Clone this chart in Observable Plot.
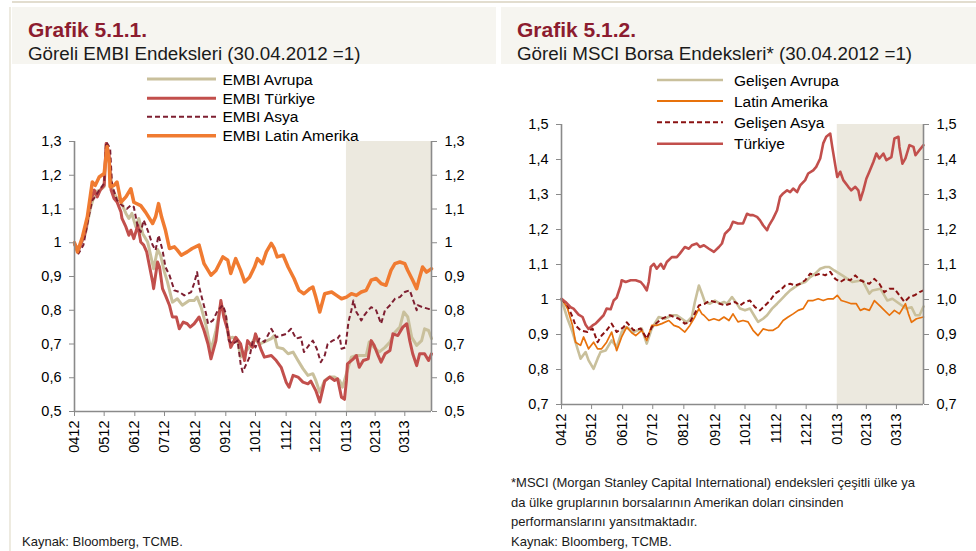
<!DOCTYPE html>
<html><head><meta charset="utf-8">
<script src="https://cdn.jsdelivr.net/npm/d3@7"></script>
<script src="https://cdn.jsdelivr.net/npm/@observablehq/plot@0.6"></script>
<style>
html,body{margin:0;padding:0;background:#fff;}
#page{position:relative;width:976px;height:551px;overflow:hidden;font-family:"Liberation Sans",Arial,sans-serif;}
.abs{position:absolute;left:0;top:0;}
#chart1{position:absolute;left:0;top:120px;}
#chart2{position:absolute;left:490px;top:100px;}
.ttl{font-family:"Liberation Sans",Arial,sans-serif;font-weight:bold;font-size:21px;fill:#8c1c2f;}
.sub{font-family:"Liberation Sans",Arial,sans-serif;font-size:18.8px;fill:#1a1a1a;}
.leg{font-family:"Liberation Sans",Arial,sans-serif;font-size:15.5px;fill:#000;}
.note{font-family:"Liberation Sans",Arial,sans-serif;font-size:13px;fill:#1a1a1a;}
</style></head>
<body>
<div id="page">
<svg id="bg" class="abs" width="976" height="551"></svg>
<div id="chart1"></div>
<div id="chart2"></div>
<svg id="overlay" class="abs" width="976" height="551"></svg>
</div>
<script>
// ---------- data ----------
const baseDate = "2012-04-30";            // 30.04.2012 = 1 ; series below are [days since base, index]
const periodEnd = "2013-04-26";
const shadeStart = "2013-01-30";
const monthTicks = ["2012-04-30","2012-05-30","2012-06-30","2012-07-30","2012-08-30","2012-09-30",
  "2012-10-30","2012-11-30","2012-12-30","2013-01-30","2013-02-28","2013-03-30"];
const yTicksEmbi = [0.5,0.6,0.7,0.8,0.9,1.0,1.1,1.2,1.3];
const yTicksMsci = [0.7,0.8,0.9,1.0,1.1,1.2,1.3,1.4,1.5];

const embiNames = ["EMBI Avrupa","EMBI Türkiye","EMBI Asya","EMBI Latin Amerika"];
const msciNames = ["Gelişen Avrupa","Latin Amerika","Gelişen Asya","Türkiye"];

const embiAvrupa = [[0,0.995],[4,0.978],[11,1.027],[16,1.101],[21,1.151],[26,1.156],[30,1.166],[32,1.289],[36,1.22],[38,1.161],[42,1.136],[47,1.121],[52,1.087],[55,1.072],[58,1.087],[62,1.047],[65,1.072],[69,1.027],[74,1.002],[77,0.963],[80,0.923],[84,0.98],[87,0.963],[91,0.913],[94,0.884],[99,0.824],[104,0.834],[109,0.815],[116,0.829],[121,0.829],[124,0.839],[128,0.809],[133,0.755],[138,0.681],[143,0.74],[148,0.82],[153,0.78],[156,0.716],[160,0.72],[165,0.71],[168,0.661],[172,0.676],[177,0.69],[182,0.716],[187,0.70],[192,0.706],[199,0.716],[202,0.725],[205,0.69],[211,0.686],[216,0.671],[221,0.676],[226,0.651],[231,0.627],[236,0.607],[241,0.612],[244,0.592],[248,0.557],[253,0.592],[258,0.602],[263,0.602],[268,0.592],[271,0.572],[275,0.612],[280,0.661],[285,0.666],[290,0.666],[295,0.666],[298,0.706],[303,0.69],[308,0.676],[314,0.69],[319,0.706],[324,0.735],[329,0.75],[333,0.795],[337,0.78],[341,0.72],[346,0.696],[351,0.71],[354,0.745],[358,0.74],[361,0.716]];
const embiTurkiye = [[0,0.998],[4,0.978],[11,1.032],[16,1.121],[20,1.156],[23,1.136],[26,1.156],[30,1.17],[32,1.294],[35,1.26],[37,1.156],[40,1.131],[43,1.121],[47,1.091],[48,1.072],[52,1.047],[55,1.022],[57,1.037],[60,1.012],[64,1.052],[67,1.002],[70,0.993],[73,0.973],[75,0.943],[79,0.884],[80,0.864],[82,0.904],[84,0.943],[86,0.928],[89,0.864],[92,0.844],[96,0.815],[99,0.78],[103,0.78],[106,0.745],[110,0.765],[114,0.76],[117,0.75],[121,0.76],[126,0.78],[131,0.74],[135,0.70],[138,0.656],[143,0.71],[148,0.829],[151,0.78],[155,0.74],[158,0.69],[163,0.72],[168,0.70],[172,0.651],[175,0.71],[180,0.69],[183,0.73],[189,0.681],[192,0.661],[199,0.666],[204,0.651],[209,0.631],[214,0.587],[217,0.572],[221,0.607],[226,0.602],[231,0.587],[236,0.582],[239,0.59],[244,0.562],[248,0.528],[253,0.59],[258,0.602],[263,0.592],[266,0.597],[270,0.542],[273,0.536],[275,0.592],[276,0.641],[282,0.656],[285,0.666],[288,0.631],[292,0.651],[297,0.656],[300,0.71],[303,0.696],[307,0.666],[310,0.646],[314,0.671],[319,0.681],[322,0.73],[327,0.725],[332,0.75],[336,0.76],[339,0.71],[342,0.671],[346,0.636],[349,0.671],[354,0.671],[358,0.651],[361,0.671]];
const embiAsya = [[0,0.993],[4,0.968],[9,0.993],[14,1.072],[18,1.126],[21,1.136],[25,1.156],[30,1.176],[32,1.299],[36,1.28],[38,1.17],[43,1.126],[48,1.111],[53,1.101],[57,1.111],[60,1.106],[64,1.047],[67,1.032],[70,1.067],[74,1.037],[79,0.993],[82,0.978],[85,1.022],[89,0.978],[92,0.928],[96,0.904],[101,0.859],[106,0.854],[111,0.844],[118,0.854],[121,0.88],[124,0.913],[126,0.87],[129,0.835],[133,0.79],[135,0.76],[140,0.77],[145,0.80],[150,0.815],[153,0.79],[156,0.71],[160,0.70],[165,0.71],[168,0.641],[170,0.617],[173,0.636],[177,0.661],[180,0.706],[183,0.69],[187,0.716],[192,0.706],[199,0.745],[204,0.72],[209,0.725],[214,0.73],[219,0.745],[224,0.716],[229,0.72],[232,0.676],[237,0.696],[241,0.71],[245,0.686],[249,0.646],[253,0.666],[256,0.70],[261,0.71],[266,0.716],[268,0.725],[270,0.686],[274,0.69],[277,0.765],[280,0.80],[282,0.829],[285,0.795],[290,0.77],[293,0.785],[297,0.80],[300,0.809],[305,0.80],[310,0.76],[314,0.80],[319,0.815],[324,0.834],[329,0.839],[334,0.854],[339,0.859],[342,0.834],[346,0.80],[347,0.815],[352,0.809],[358,0.804],[361,0.804]];
const embiLatin = [[0,1.0],[3,0.973],[8,1.017],[13,1.077],[18,1.18],[21,1.17],[25,1.195],[30,1.205],[33,1.285],[35,1.245],[36,1.166],[40,1.17],[43,1.18],[47,1.12],[52,1.136],[57,1.16],[60,1.12],[67,1.11],[72,1.09],[79,1.057],[82,1.077],[85,1.116],[88,1.077],[92,1.037],[96,0.983],[101,0.988],[104,0.978],[108,0.963],[114,0.973],[119,0.983],[126,0.993],[131,0.938],[138,0.904],[143,0.918],[150,0.958],[155,0.948],[158,0.909],[163,0.953],[168,0.918],[172,0.884],[177,0.898],[182,0.928],[185,0.953],[190,0.938],[194,0.973],[199,0.998],[202,0.983],[205,0.958],[211,0.963],[216,0.928],[222,0.894],[227,0.859],[232,0.849],[238,0.864],[241,0.869],[244,0.839],[248,0.795],[253,0.849],[260,0.854],[265,0.844],[270,0.834],[275,0.839],[280,0.849],[285,0.844],[290,0.854],[295,0.859],[300,0.889],[305,0.894],[310,0.879],[315,0.874],[320,0.918],[324,0.938],[329,0.943],[334,0.938],[337,0.918],[342,0.889],[346,0.864],[349,0.898],[352,0.928],[356,0.913],[361,0.923]];

const msciAvrupa = [[0,1.0],[6,0.945],[11,0.907],[16,0.859],[19,0.831],[24,0.85],[27,0.826],[32,0.802],[36,0.831],[39,0.85],[44,0.854],[50,0.883],[55,0.864],[60,0.907],[65,0.921],[72,0.907],[80,0.917],[85,0.874],[90,0.917],[97,0.95],[103,0.945],[110,0.955],[115,0.955],[120,0.945],[125,0.935],[130,0.95],[133,0.993],[137,1.04],[140,1.017],[143,0.993],[148,0.988],[153,0.997],[158,0.988],[162,0.993],[165,0.988],[170,1.007],[175,0.988],[178,0.974],[183,0.969],[188,0.974],[193,0.95],[196,0.936],[201,0.945],[205,0.955],[210,0.974],[215,0.988],[218,0.997],[223,1.012],[228,1.026],[233,1.036],[238,1.045],[243,1.05],[248,1.064],[253,1.074],[258,1.088],[263,1.093],[267,1.093],[272,1.083],[280,1.069],[290,1.05],[300,1.055],[307,1.017],[310,1.026],[318,1.031],[325,0.997],[330,1.002],[337,0.988],[344,0.974],[349,0.978],[353,0.955],[357,0.955],[361,0.98]];
const msciLatin = [[0,0.998],[1,1.0],[6,0.974],[11,0.926],[14,0.878],[19,0.869],[22,0.893],[27,0.859],[32,0.878],[36,0.859],[40,0.859],[45,0.878],[50,0.907],[55,0.854],[60,0.893],[65,0.921],[70,0.905],[74,0.897],[80,0.912],[85,0.883],[90,0.926],[95,0.926],[100,0.931],[107,0.94],[112,0.926],[117,0.921],[123,0.907],[128,0.926],[133,0.95],[137,0.974],[140,0.959],[142,0.955],[147,0.94],[152,0.945],[157,0.94],[162,0.95],[167,0.94],[171,0.959],[176,0.936],[181,0.94],[186,0.936],[191,0.912],[196,0.897],[201,0.916],[206,0.912],[211,0.912],[216,0.921],[221,0.94],[226,0.95],[231,0.959],[236,0.969],[241,0.974],[246,0.997],[251,0.997],[256,1.002],[261,0.997],[266,1.002],[271,1.002],[275,1.012],[279,0.997],[284,0.993],[289,0.988],[294,0.988],[298,0.969],[302,0.974],[307,0.969],[312,0.997],[317,0.983],[322,0.969],[327,0.955],[332,0.969],[337,0.959],[343,0.988],[346,0.959],[349,0.935],[354,0.945],[361,0.95]];
const msciAsya = [[0,1.002],[6,0.983],[11,0.95],[14,0.926],[19,0.912],[26,0.907],[31,0.917],[36,0.878],[40,0.897],[45,0.912],[50,0.931],[55,0.907],[62,0.921],[65,0.935],[72,0.912],[79,0.917],[85,0.888],[90,0.921],[100,0.945],[108,0.955],[117,0.945],[123,0.931],[128,0.935],[132,0.955],[137,0.983],[143,0.988],[148,0.997],[153,0.993],[158,0.988],[163,0.983],[168,0.988],[173,0.993],[178,0.983],[183,0.993],[188,0.997],[193,0.978],[198,0.969],[203,0.983],[208,0.997],[213,1.017],[218,1.026],[223,1.04],[228,1.045],[233,1.04],[238,1.045],[243,1.055],[248,1.074],[253,1.069],[258,1.074],[263,1.069],[268,1.079],[273,1.059],[278,1.05],[283,1.059],[288,1.055],[293,1.069],[298,1.055],[302,1.05],[307,1.045],[312,1.059],[317,1.045],[322,1.021],[327,1.031],[332,1.031],[337,1.012],[342,0.993],[347,1.007],[352,1.012],[357,1.021],[361,1.026]];
const msciTurkiye = [[0,1.002],[4,0.993],[9,0.978],[12,0.974],[17,0.957],[21,0.95],[24,0.928],[27,0.916],[31,0.926],[34,0.931],[37,0.94],[42,0.955],[45,0.974],[49,0.972],[52,0.997],[55,1.005],[59,1.04],[60,1.055],[64,1.05],[69,1.055],[74,1.055],[79,1.05],[82,1.04],[85,1.026],[87,1.05],[89,1.093],[92,1.102],[95,1.088],[99,1.102],[102,1.088],[105,1.107],[110,1.121],[115,1.121],[118,1.131],[123,1.15],[127,1.145],[130,1.155],[135,1.16],[138,1.15],[142,1.155],[147,1.145],[152,1.136],[157,1.15],[160,1.16],[163,1.188],[168,1.202],[171,1.222],[176,1.217],[181,1.217],[185,1.245],[188,1.241],[191,1.241],[195,1.236],[198,1.226],[201,1.212],[205,1.198],[207,1.212],[211,1.231],[215,1.255],[218,1.293],[221,1.303],[225,1.312],[228,1.307],[231,1.317],[235,1.307],[238,1.326],[243,1.341],[246,1.36],[251,1.369],[254,1.379],[258,1.403],[261,1.446],[264,1.465],[268,1.474],[270,1.436],[273,1.384],[275,1.35],[278,1.365],[281,1.341],[286,1.322],[289,1.312],[293,1.322],[296,1.312],[298,1.284],[301,1.312],[304,1.345],[307,1.365],[311,1.393],[314,1.417],[317,1.403],[321,1.417],[324,1.398],[329,1.407],[332,1.46],[336,1.465],[337,1.436],[340,1.388],[343,1.403],[347,1.441],[351,1.436],[353,1.412],[357,1.427],[361,1.441]];

// ---------- styles ----------
const embiStyles = [
  {color:"#c9c09c", width:3},
  {color:"#c24f4c", width:3},
  {color:"#7e1f31", width:2, dash:"5,3"},
  {color:"#f07b31", width:3.5}
];
const msciStyles = [
  {color:"#c9c09c", width:2.6},
  {color:"#e8720c", width:1.7},
  {color:"#8a1212", width:2, dash:"5,3"},
  {color:"#c24f4c", width:2.6}
];
const SHADE = "#ece9df", AXIS = "#8a8a8a";

const base = new Date(baseDate);
const toRows = (pairs) => pairs.map(([d, v]) => ({date: d3.utcDay.offset(base, d), value: v}));
const fmtComma = d => d3.format(".1f")(d).replace(".", ",");
const fmtOne = d => Math.abs(d - 1) < 1e-9 ? "1" : fmtComma(d);
const tickDates = monthTicks.map(s => new Date(s));
const xDomain = [new Date(baseDate), new Date(periodEnd)];

function makeChart({series, styles, yTicks, leftFmt, rightFmt, width, height, margins}) {
  const yDom = [yTicks[0], yTicks[yTicks.length - 1]];
  const shade = [{x1: new Date(shadeStart), x2: new Date(periodEnd), y1: yDom[0], y2: yDom[1]}];
  const lines = series.map((s, i) => Plot.line(toRows(s), {
    x: "date", y: "value", stroke: styles[i].color, strokeWidth: styles[i].width,
    strokeDasharray: styles[i].dash || null, strokeLinecap: styles[i].dash ? "butt" : "round",
    strokeLinejoin: "round"
  }));
  return Plot.plot({
    width, height,
    marginLeft: margins[0], marginRight: margins[1], marginTop: margins[2], marginBottom: margins[3],
    style: {fontFamily: "'Liberation Sans', Arial, sans-serif", fontSize: "14.5px", color: "#000", background: "transparent", overflow: "visible"},
    x: {type: "utc", domain: xDomain},
    y: {domain: yDom},
    marks: [
      Plot.rect(shade, {x1: "x1", x2: "x2", y1: "y1", y2: "y2", fill: SHADE}),
      ...lines,
      Plot.ruleX(xDomain, {stroke: AXIS, strokeWidth: 1.6}),
      Plot.ruleY([yDom[0]], {stroke: AXIS, strokeWidth: 1.6}),
      Plot.axisX({ticks: tickDates, tickFormat: d3.utcFormat("%m%y"), tickRotate: -90, tickSize: 5, tickPadding: 4, stroke: AXIS, label: null}),
      Plot.axisY({anchor: "left", ticks: yTicks, tickFormat: leftFmt, tickSize: 5, tickPadding: 8, stroke: AXIS, label: null}),
      Plot.axisY({anchor: "right", ticks: yTicks, tickFormat: rightFmt, tickSize: 5, tickPadding: 8, stroke: AXIS, label: null})
    ]
  });
}

document.getElementById("chart1").append(makeChart({
  series: [embiAvrupa, embiTurkiye, embiAsya, embiLatin], styles: embiStyles,
  yTicks: yTicksEmbi, leftFmt: fmtOne, rightFmt: fmtOne,
  width: 490, height: 330, margins: [74, 59, 21, 39]
}));
document.getElementById("chart2").append(makeChart({
  series: [msciAvrupa, msciLatin, msciAsya, msciTurkiye], styles: msciStyles,
  yTicks: yTicksMsci, leftFmt: fmtOne, rightFmt: fmtComma,
  width: 486, height: 350, margins: [71, 53, 24, 46]
}));

// ---------- background frame ----------
const bg = d3.select("#bg");
bg.append("rect").attr("x", 12).attr("y", 7).attr("width", 484).attr("height", 57).attr("fill", "#f6f5f0");
bg.append("rect").attr("x", 501).attr("y", 7).attr("width", 475).attr("height", 57).attr("fill", "#f6f5f0");
bg.append("line").attr("x1", 12).attr("x2", 976).attr("y1", 2).attr("y2", 2).attr("stroke", "#d8d2bf").attr("stroke-width", 1.5);
bg.append("line").attr("x1", 10).attr("x2", 10).attr("y1", 7).attr("y2", 551).attr("stroke", "#e2ddcc").attr("stroke-width", 1.2);

// ---------- text & legends ----------
const ov = d3.select("#overlay");
const txt = (x, y, s, cls) => ov.append("text").attr("x", x).attr("y", y).attr("class", cls).text(s);
txt(28, 37, "Grafik 5.1.1.", "ttl");
txt(28, 60, "Göreli EMBI Endeksleri (30.04.2012 =1)", "sub");
txt(517, 37, "Grafik 5.1.2.", "ttl");
txt(517, 60, "Göreli MSCI Borsa Endeksleri* (30.04.2012 =1)", "sub");

function legend(names, styles, x0, x1, tx, ys) {
  names.forEach((n, i) => {
    const s = styles[i];
    ov.append("line").attr("x1", x0).attr("x2", x1).attr("y1", ys[i]).attr("y2", ys[i])
      .attr("stroke", s.color).attr("stroke-width", s.dash ? 2 : Math.max(s.width, 2))
      .attr("stroke-dasharray", s.dash || null);
    ov.append("text").attr("x", tx).attr("y", ys[i] + 5.5).attr("class", "leg").text(n);
  });
}
legend(embiNames, embiStyles, 147, 216, 222.5, [79, 98.3, 116.7, 135.7]);
legend(msciNames, msciStyles, 657, 723, 734, [80, 101, 122.3, 143.7]);

txt(22, 546, "Kaynak: Bloomberg, TCMB.", "note");
txt(511, 487, "*MSCI (Morgan Stanley Capital International) endeksleri çeşitli ülke ya", "note");
txt(511, 506.5, "da ülke gruplarının borsalarının Amerikan doları cinsinden", "note");
txt(511, 526, "performanslarını yansıtmaktadır.", "note");
txt(511, 546, "Kaynak: Bloomberg, TCMB.", "note");
</script>
</body></html>
